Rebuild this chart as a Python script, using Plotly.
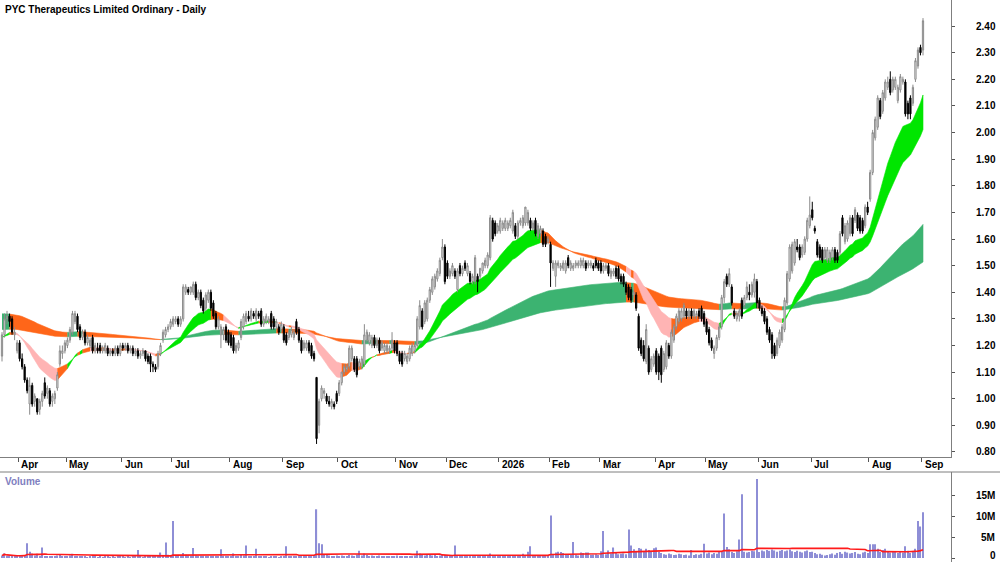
import numpy as np
import pandas as pd
import plotly.graph_objects as go

TITLE = "PYC Therapeutics Limited Ordinary - Daily"
START, END = "2025-03-21", "2026-09-01"
HOLIDAYS = ["2025-04-18", "2025-04-21", "2025-04-25", "2025-06-09", "2025-12-25", "2025-12-26",
            "2026-01-01", "2026-01-26", "2026-04-03", "2026-04-06", "2026-06-08"]

# prices in cents, one line per month (Mar 2025 ... Sep 2026)
OPEN = [
    116, 124, 130, 131, 130, 124, 118,
    121, 115, 112, 107, 98, 105, 99, 100, 96, 99, 106, 102, 103, 99, 100, 104, 113, 117, 118,
    120, 122, 125, 129, 131, 127, 123, 125, 121, 120, 123, 118, 119, 120, 118, 118, 119, 117, 118, 117, 119, 117,
    120, 119, 120, 118, 119, 117, 118, 116, 117, 118, 116, 116, 113, 112, 112, 117, 122, 124, 126, 127,
    128, 129, 130, 128, 130, 140, 141, 140, 140, 143, 138, 140, 137, 134, 137, 140, 136, 132, 127, 124, 124, 127, 125,
    124, 123, 118, 119, 123, 127, 129, 131, 130, 132, 130, 132, 133, 128, 129, 129, 132, 130, 127, 127, 126,
    127, 124, 123, 124, 123, 129, 126, 122, 119, 119, 121, 120, 117, 108, 90, 100, 102, 101, 99, 97, 98, 102,
    102, 106, 110, 111, 112, 115, 115, 115, 112, 112, 113, 122, 121, 120, 123, 120, 122, 119, 118, 118, 118, 119, 121,
    121, 117, 117, 115, 114, 115, 117, 118, 120, 127, 133, 129, 130, 137, 140, 142, 145, 147, 153, 157,
    151, 146, 147, 148, 141, 150, 147, 151, 147, 147, 144, 144, 146, 146, 148, 150, 150, 153, 167, 166, 163,
    163, 164, 164, 164, 165, 163, 165, 161, 166, 165, 166, 166, 167, 164, 167, 161, 162, 163, 161, 159,
    158, 149, 146, 150, 149, 149, 148, 153, 149, 149, 150, 150, 150, 150, 151, 150, 150, 150, 152, 151,
    151, 148, 149, 150, 146, 147, 149, 149, 146, 146, 143, 142, 141, 139, 139, 131, 122, 120, 114, 119, 111, 113,
    118, 116, 119, 111, 112, 120, 116, 122, 127, 129, 130, 131, 133, 131, 133, 131, 131, 133, 134, 132,
    129, 126, 122, 117, 119, 123, 127, 138, 146, 143, 142, 133, 130, 131, 137, 135, 138, 140, 139, 140, 144,
    137, 134, 133, 130, 126, 124, 120, 117, 120, 122, 126, 136, 145, 148, 151, 157, 157, 154, 155, 160, 165,
    171, 164, 159, 157, 156, 153, 152, 152, 153, 156, 155, 155, 168, 159, 160, 162, 168, 167, 169, 168, 167, 165, 172,
    175, 185, 198, 202, 212, 208, 213, 217, 220, 216, 217, 212, 216, 219, 219, 211, 213, 211, 220, 225, 232,
    231,
]
HIGH = [
    125, 132, 133, 132, 131, 127, 122,
    122, 117, 113, 108, 108, 106, 102, 100, 100, 103, 108, 105, 104, 102, 103, 110, 120, 120, 122,
    123, 127, 133, 133, 132, 128, 126, 126, 124, 123, 124, 121, 121, 121, 120, 121, 120, 119, 119, 120, 120, 121,
    121, 121, 121, 120, 120, 119, 119, 118, 119, 118, 117, 117, 114, 113, 118, 121, 126, 127, 128, 130,
    131, 131, 131, 131, 143, 143, 142, 142, 144, 144, 141, 141, 138, 140, 141, 141, 137, 133, 131, 128, 127, 128, 126,
    125, 124, 121, 122, 130, 132, 133, 133, 134, 133, 134, 133, 134, 131, 132, 131, 133, 131, 130, 128, 129,
    128, 125, 126, 127, 126, 130, 127, 123, 122, 122, 122, 121, 118, 108, 100, 105, 104, 102, 101, 100, 99, 103,
    107, 110, 113, 113, 120, 120, 116, 116, 115, 116, 128, 126, 125, 124, 124, 123, 123, 122, 121, 121, 120, 125, 122,
    122, 118, 118, 118, 117, 120, 121, 121, 131, 137, 134, 137, 138, 142, 146, 147, 149, 153, 160, 158,
    152, 149, 151, 149, 149, 151, 150, 152, 151, 148, 147, 154, 147, 149, 151, 153, 155, 169, 168, 167, 166,
    168, 167, 168, 167, 168, 171, 166, 167, 168, 169, 172, 171, 168, 167, 168, 166, 165, 164, 162, 161,
    159, 152, 152, 152, 151, 152, 152, 154, 152, 151, 152, 152, 153, 153, 152, 152, 152, 151, 153, 152,
    152, 151, 151, 151, 149, 149, 150, 150, 147, 147, 144, 143, 142, 141, 140, 132, 123, 122, 128, 120, 116, 117,
    119, 117, 120, 118, 122, 121, 126, 128, 132, 134, 134, 136, 134, 134, 134, 134, 133, 134, 135, 133,
    130, 127, 123, 120, 124, 128, 139, 145, 147, 149, 143, 134, 133, 134, 138, 139, 144, 143, 144, 147, 145,
    138, 135, 134, 131, 127, 125, 121, 123, 126, 128, 138, 148, 158, 159, 160, 160, 158, 158, 161, 168, 176,
    174, 165, 160, 158, 157, 157, 157, 156, 157, 157, 156, 163, 169, 166, 167, 169, 169, 172, 170, 169, 168, 173, 174,
    186, 201, 206, 214, 213, 216, 220, 221, 223, 221, 221, 218, 222, 221, 220, 212, 214, 218, 228, 232, 233,
    243,
]
LOW = [
    114, 123, 128, 127, 124, 122, 117,
    114, 111, 106, 102, 94, 97, 97, 94, 94, 97, 100, 100, 97, 97, 98, 103, 112, 115, 117,
    119, 121, 124, 128, 125, 122, 122, 120, 120, 119, 117, 117, 117, 117, 117, 117, 116, 116, 116, 116, 116, 116,
    118, 118, 117, 117, 116, 116, 115, 115, 116, 114, 113, 110, 110, 110, 111, 116, 121, 123, 125, 126,
    127, 128, 127, 127, 129, 139, 139, 139, 139, 137, 137, 134, 132, 133, 136, 133, 130, 126, 126, 119, 122, 121, 120,
    119, 117, 117, 118, 122, 126, 128, 129, 129, 130, 129, 130, 127, 127, 128, 128, 126, 126, 126, 124, 125,
    121, 120, 122, 123, 122, 124, 121, 117, 118, 118, 117, 115, 114, 83, 87, 99, 100, 98, 97, 96, 96, 98,
    101, 105, 109, 110, 111, 114, 110, 108, 111, 111, 112, 121, 120, 119, 119, 119, 117, 118, 117, 117, 117, 118, 117,
    116, 113, 112, 114, 113, 114, 116, 117, 119, 126, 126, 128, 129, 136, 139, 141, 144, 146, 152, 143,
    145, 145, 146, 145, 140, 146, 146, 148, 146, 143, 143, 143, 140, 145, 147, 149, 149, 152, 159, 161, 162,
    162, 163, 163, 163, 164, 162, 160, 160, 165, 164, 165, 165, 163, 163, 161, 160, 161, 157, 157, 158,
    142, 148, 142, 149, 148, 148, 147, 149, 148, 148, 149, 149, 149, 149, 148, 149, 149, 148, 149, 148,
    147, 147, 148, 146, 145, 146, 145, 144, 143, 142, 139, 137, 136, 138, 133, 118, 116, 114, 113, 109, 110, 112,
    109, 107, 106, 110, 111, 115, 115, 121, 126, 128, 129, 130, 130, 130, 130, 130, 130, 130, 129, 127,
    124, 120, 118, 115, 118, 122, 126, 136, 142, 142, 135, 130, 129, 129, 130, 134, 137, 137, 138, 138, 134,
    133, 131, 128, 124, 121, 115, 115, 116, 119, 121, 125, 135, 144, 147, 150, 155, 152, 153, 154, 159, 164,
    167, 162, 153, 152, 151, 152, 151, 151, 152, 151, 151, 154, 161, 158, 159, 161, 161, 166, 163, 162, 162, 164, 169,
    174, 184, 197, 201, 205, 207, 212, 216, 214, 215, 216, 211, 215, 218, 206, 205, 205, 210, 219, 224, 229,
    229,
]
CLOSE = [
    124, 130, 131, 129, 125, 125, 121,
    115, 112, 107, 103, 105, 98, 101, 95, 99, 102, 101, 104, 98, 101, 102, 109, 118, 118, 121,
    122, 126, 132, 132, 126, 123, 125, 121, 123, 122, 118, 120, 118, 118, 119, 120, 117, 118, 117, 119, 117, 120,
    119, 120, 118, 119, 117, 118, 116, 117, 118, 115, 114, 113, 112, 111, 117, 120, 125, 126, 127, 129,
    130, 130, 128, 130, 142, 142, 140, 142, 143, 138, 140, 135, 133, 139, 140, 134, 131, 127, 130, 127, 126, 122, 121,
    120, 118, 120, 121, 129, 131, 132, 130, 133, 131, 133, 131, 128, 130, 131, 130, 127, 127, 129, 125, 128,
    122, 121, 125, 126, 125, 125, 122, 118, 121, 121, 118, 116, 115, 85, 99, 104, 103, 99, 98, 99, 97, 99,
    106, 110, 112, 112, 119, 119, 111, 109, 114, 115, 124, 125, 124, 123, 120, 122, 118, 121, 120, 120, 119, 122, 118,
    117, 114, 113, 117, 116, 119, 120, 120, 130, 135, 127, 136, 137, 141, 145, 146, 148, 152, 157, 144,
    146, 148, 150, 146, 148, 147, 149, 149, 150, 144, 146, 153, 144, 149, 151, 152, 154, 168, 160, 162, 165,
    167, 166, 167, 166, 167, 170, 161, 166, 167, 168, 172, 170, 164, 166, 162, 165, 164, 158, 158, 160,
    151, 151, 151, 151, 150, 151, 151, 150, 151, 150, 151, 151, 152, 152, 149, 151, 151, 149, 150, 149,
    148, 150, 150, 147, 148, 148, 146, 145, 144, 143, 140, 138, 137, 140, 134, 119, 117, 115, 126, 110, 115, 116,
    110, 110, 109, 117, 121, 116, 125, 127, 131, 133, 133, 135, 131, 133, 131, 133, 132, 131, 130, 128,
    125, 121, 119, 119, 123, 127, 138, 144, 143, 147, 136, 131, 132, 133, 131, 138, 142, 139, 143, 145, 136,
    134, 132, 129, 125, 122, 117, 116, 122, 125, 127, 137, 147, 157, 158, 159, 156, 153, 157, 160, 167, 169,
    168, 163, 154, 153, 152, 156, 156, 155, 156, 152, 152, 162, 162, 165, 166, 168, 162, 171, 164, 163, 163, 172, 170,
    185, 200, 205, 213, 206, 215, 219, 219, 215, 220, 220, 217, 221, 220, 207, 207, 207, 217, 227, 231, 230,
    242,
]
# volume in millions of shares
VOLUME = [
    0.6, 1.1, 0.5, 0.4, 0.3, 0.5, 0.4,
    0.5, 0.6, 0.7, 3.5, 1.5, 1.1, 0.6, 1.0, 0.5, 2.5, 0.4, 0.3, 0.5, 0.3, 0.4, 0.6, 0.9, 0.5, 0.4,
    0.5, 0.6, 1.0, 0.5, 0.4, 0.3, 0.4, 0.3, 0.2, 0.3, 0.4, 0.3, 0.2, 0.3, 0.2, 0.3, 0.3, 0.2, 0.3, 0.2, 0.3, 0.4,
    0.3, 0.2, 0.3, 0.2, 0.4, 0.3, 1.9, 0.3, 0.2, 0.3, 0.4, 0.3, 0.5, 0.4, 0.6, 1.3, 0.7, 3.7, 0.8, 0.6,
    8.8, 0.7, 0.6, 0.5, 1.2, 0.8, 0.6, 0.5, 2.4, 0.6, 0.5, 0.4, 0.5, 0.4, 0.3, 0.5, 0.4, 0.3, 0.4, 2.1, 0.5, 0.4, 0.3,
    0.4, 1.1, 0.4, 0.5, 0.8, 0.6, 3.0, 0.5, 0.4, 0.5, 2.2, 0.4, 0.3, 0.4, 0.3, 0.2, 0.3, 0.4, 0.3, 0.2, 0.3,
    0.4, 2.8, 0.5, 0.3, 0.4, 0.3, 0.5, 0.6, 0.4, 0.3, 0.4, 0.5, 0.7, 11.6, 3.5, 3.3, 0.9, 0.7, 0.6, 0.5, 0.4, 0.6,
    0.5, 0.6, 0.4, 0.5, 0.7, 0.6, 0.5, 0.8, 1.7, 0.6, 1.1, 0.7, 0.5, 0.6, 0.4, 0.5, 0.6, 0.4, 0.3, 0.4, 0.3, 0.5, 0.4,
    0.6, 0.5, 0.4, 0.3, 0.4, 0.5, 0.4, 0.6, 1.7, 1.1, 0.8, 0.6, 0.7, 0.9, 0.6, 0.7, 0.5, 0.6, 0.8, 0.7,
    0.5, 0.4, 0.6, 3.0, 0.5, 0.4, 0.6, 0.5, 0.4, 0.5, 0.3, 0.6, 0.5, 0.4, 0.3, 0.4, 0.5, 1.1, 0.6, 0.4, 0.3,
    0.3, 0.4, 0.3, 0.5, 0.4, 0.6, 0.5, 0.4, 0.3, 1.0, 0.5, 1.5, 2.8, 0.6, 0.4, 0.5, 0.3, 0.4, 0.5, 0.6,
    10.1, 0.9, 1.3, 1.5, 1.4, 1.2, 0.8, 0.9, 0.7, 3.8, 0.8, 0.6, 1.3, 1.2, 1.3, 1.3, 0.7, 0.8, 0.9, 0.7,
    1.6, 6.4, 0.9, 1.8, 1.1, 2.5, 1.2, 0.9, 1.0, 1.1, 0.9, 6.8, 3.0, 2.1, 1.5, 2.4, 2.2, 1.6, 2.2, 1.9, 1.5, 2.3,
    2.5, 1.5, 1.2, 0.9, 0.8, 1.1, 0.9, 0.7, 0.8, 1.0, 0.9, 0.7, 0.8, 0.6, 1.9, 0.7, 0.9, 0.8, 1.0, 3.4,
    1.1, 1.3, 0.9, 1.2, 1.0, 1.4, 1.5, 10.6, 2.6, 2.1, 1.4, 1.2, 1.6, 4.4, 15.2, 1.5, 1.3, 1.4, 1.7, 1.6, 18.8,
    1.4, 1.8, 1.6, 1.9, 1.7, 2.0, 1.8, 1.5, 1.7, 1.9, 1.6, 1.8, 2.0, 1.6, 1.4, 1.7, 1.5, 1.3, 1.6, 1.8, 1.4,
    1.5, 1.2, 0.9, 1.0, 0.8, 0.6, 0.7, 0.9, 1.1, 0.8, 1.2, 1.4, 1.0, 1.5, 1.3, 1.1, 1.2, 1.4, 1.0, 0.9, 1.3, 1.5, 1.2,
    3.3, 3.3, 3.3, 2.2, 1.4, 1.9, 2.2, 1.5, 1.3, 1.6, 1.4, 1.2, 1.5, 1.3, 2.8, 1.7, 1.2, 1.4, 2.2, 8.8, 7.5,
    10.9,
]

PRICE_TICKS = [0.8, 0.9, 1.0, 1.1, 1.2, 1.3, 1.4, 1.5, 1.6, 1.7, 1.8, 1.9, 2.0, 2.1, 2.2, 2.3, 2.4]
VOL_TICKS = [0, 5e6, 10e6, 15e6]
VOL_TICK_TEXT = ["0", "5M", "10M", "15M"]

SHORT_PERIODS = (20, 35)
LONG_PERIODS = (130, 260)
SHORT_SEED = (1.23, 1.23)
LONG_SEED = (1.32, 1.26)
VOL_MA = 50

# ---------------- styling ----------------
W, H = 1000, 562
R_MARGIN = 49
PRICE_BOTTOM_PX, VOL_TOP_PX = 457, 472
PRICE_RANGE = [0.781, 2.498]
VOL_RANGE = [-0.952e6, 20.476e6]
GREEN, PINK, ORANGE, DKGREEN = "#00e600", "#ffb4b4", "#ff6619", "#3cb371"
VOL_COLOR = "#8e8ed6"
FONT = "Liberation Sans, Arial, sans-serif"

dates = pd.bdate_range(START, END)
dates = dates[~dates.isin(pd.to_datetime(HOLIDAYS))]
n = min(len(dates), len(OPEN), len(HIGH), len(LOW), len(CLOSE), len(VOLUME))
dates = dates[:n]
idx = np.arange(n)
o = np.array(OPEN[:n]) / 100.0
h = np.array(HIGH[:n]) / 100.0
l = np.array(LOW[:n]) / 100.0
c = np.array(CLOSE[:n]) / 100.0
v = np.array(VOLUME[:n]) * 1e6


def ema(values, span, seed):
    a = 2.0 / (span + 1.0)
    out, e = [], seed
    for val in values:
        e = e + a * (val - e)
        out.append(e)
    return np.array(out)


sf = ema(c, SHORT_PERIODS[0], SHORT_SEED[0])
ss = ema(c, SHORT_PERIODS[1], SHORT_SEED[1])
lf = ema(c, LONG_PERIODS[0], LONG_SEED[0])
ls = ema(c, LONG_PERIODS[1], LONG_SEED[1])

above_long = c > (lf + ls) / 2
above_short = c > (sf + ss) / 2
long_cols = np.where(above_long, DKGREEN, ORANGE)
short_cols = np.where(above_short & above_long, GREEN,
                      np.where(~above_short & ~above_long, PINK, ORANGE))


def band_traces(a, b, cols):
    segs = cols[1:]
    out = []
    s0 = 0
    for s in range(1, len(segs) + 1):
        if s == len(segs) or segs[s] != segs[s0]:
            pts = idx[s0:s + 1]
            xs = list(pts) + list(pts[::-1])
            ys = list(a[s0:s + 1]) + list(b[s0:s + 1][::-1])
            col = segs[s0]
            out.append(go.Scatter(x=xs, y=ys, mode="lines", fill="toself", fillcolor=col,
                                  line=dict(color=col, width=0.6), hoverinfo="skip",
                                  showlegend=False, xaxis="x", yaxis="y"))
            s0 = s
    return out


fig = go.Figure()
for t in band_traces(lf, ls, long_cols):
    fig.add_trace(t)
for t in band_traces(sf, ss, short_cols):
    fig.add_trace(t)

fig.add_trace(go.Candlestick(
    x=idx, open=o, high=h, low=l, close=c, xaxis="x", yaxis="y3",
    increasing=dict(line=dict(color="#8a8a8a", width=1), fillcolor="#ffffff"),
    decreasing=dict(line=dict(color="#000000", width=1), fillcolor="#000000"),
    whiskerwidth=0, showlegend=False, hoverinfo="skip"))

vol_ma = pd.Series(v).rolling(VOL_MA, min_periods=1).mean().values
fig.add_trace(go.Bar(x=idx, y=v, xaxis="x2", yaxis="y2", marker=dict(color=VOL_COLOR, line=dict(width=0)),
                     width=0.45, showlegend=False, hoverinfo="skip"))
fig.add_trace(go.Scatter(x=idx, y=vol_ma, xaxis="x2", yaxis="y2", mode="lines",
                         line=dict(color="#ff1a1a", width=1.6), showlegend=False, hoverinfo="skip"))

# x scale: first bar at 2px, last bar at 923px
plot_w = W - R_MARGIN
ppb = (923 - 2) / (n - 1)
x0 = -2 / ppb
x1 = x0 + plot_w / ppb

month_starts = [i for i in range(1, n) if dates[i].month != dates[i - 1].month]
month_labels = ["2026" if (dates[i].month == 1) else dates[i].strftime("%b") for i in month_starts]

price_dom = [1 - PRICE_BOTTOM_PX / H, 1]
vol_dom = [0, (H - VOL_TOP_PX) / H]
axis_font = dict(family=FONT, size=10, color="#000000", weight="bold")

fig.update_layout(
    width=W, height=H, margin=dict(l=0, r=R_MARGIN, t=0, b=0),
    paper_bgcolor="white", plot_bgcolor="white", showlegend=False, hovermode=False,
    xaxis=dict(domain=[0, 1], anchor="y", range=[x0, x1], showgrid=False, zeroline=False,
               tickmode="array", tickvals=[i - 0.5 for i in month_starts], ticktext=[""] * len(month_starts),
               ticks="outside", ticklen=4, tickcolor="#555555", showticklabels=False,
               showline=True, linecolor="#7f7f7f", linewidth=1, rangeslider=dict(visible=False)),
    yaxis=dict(domain=price_dom, anchor="x", side="right", range=PRICE_RANGE, showgrid=False, zeroline=False,
               tickmode="array", tickvals=PRICE_TICKS, ticktext=[f"{t:.2f}" for t in PRICE_TICKS],
               ticks="outside", ticklen=3, tickcolor="#555555", tickfont=axis_font,
               ticklabelstandoff=19, showline=True, linecolor="#7f7f7f", linewidth=1),
    yaxis3=dict(overlaying="y", anchor="x", side="right", range=PRICE_RANGE, showgrid=False,
                zeroline=False, showticklabels=False, ticks="", showline=False),
    xaxis2=dict(domain=[0, 1], anchor="y2", matches="x", range=[x0, x1], showgrid=False, zeroline=False,
                showticklabels=False, ticks="", showline=False),
    yaxis2=dict(domain=vol_dom, anchor="x2", side="right", range=VOL_RANGE, showgrid=False, zeroline=False,
                tickmode="array", tickvals=VOL_TICKS, ticks="outside", ticklen=3, tickcolor="#555555",
                showticklabels=False, showline=True, linecolor="#7f7f7f", linewidth=1),
)

ann = [dict(text=TITLE, xref="paper", yref="paper", x=3 / plot_w, y=1 - 9 / H, xanchor="left",
            yanchor="middle", showarrow=False, font=dict(family=FONT, size=10, color="#000000", weight="bold")),
       dict(text="Volume", xref="paper", yref="paper", x=3 / plot_w, y=1 - 481 / H, xanchor="left",
            yanchor="middle", showarrow=False, font=dict(family=FONT, size=10, color="#8080c0", weight="bold"))]
for i, lab in zip(month_starts, month_labels):
    ann.append(dict(text=lab, xref="x", yref="paper", x=i - 0.5, y=1 - 465 / H, xanchor="left", xshift=1,
                    yanchor="middle", showarrow=False, font=axis_font))
for tv, tt in zip(VOL_TICKS, VOL_TICK_TEXT):
    if tv == 0:
        ann.append(dict(text=tt, xref="paper", yref="paper", x=997 / plot_w, y=0, xanchor="right",
                        yanchor="bottom", showarrow=False, font=axis_font, borderpad=0))
    else:
        ann.append(dict(text=tt, xref="paper", yref="y2", x=997 / plot_w, y=tv, xanchor="right",
                        yanchor="middle", showarrow=False, font=axis_font))
fig.update_layout(annotations=ann)

fig.add_shape(type="line", xref="paper", yref="paper", x0=0, x1=W / plot_w,
              y0=(H - VOL_TOP_PX) / H, y1=(H - VOL_TOP_PX) / H, line=dict(color="#7f7f7f", width=1))

fig.write_html("out.html", config={"displayModeBar": False},
               post_script="document.body.style.margin='0';document.body.style.padding='0';"
                           "document.body.style.overflow='hidden';")
